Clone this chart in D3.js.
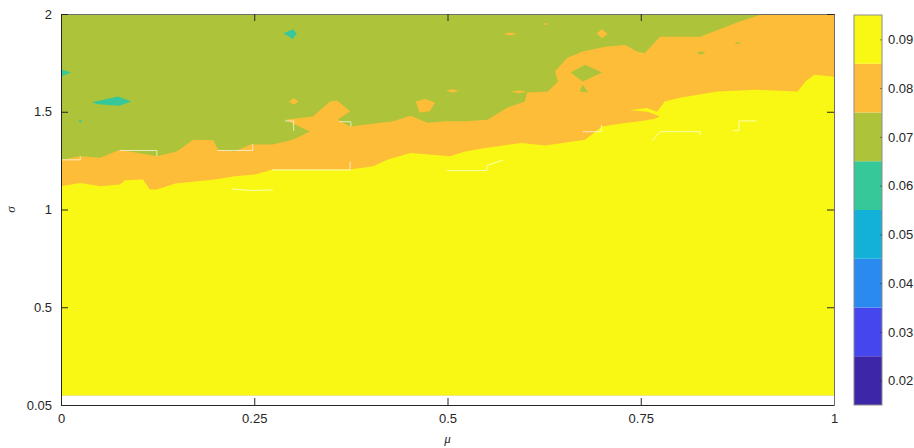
<!DOCTYPE html>
<html>
<head>
<meta charset="utf-8">
<script src="https://cdn.jsdelivr.net/npm/d3@7"></script>
<style>
  body { margin: 0; background: #fff; }
  text { font-family: "Liberation Sans", Arial, sans-serif; fill: #262626; }
</style>
</head>
<body>
<div id="chart"></div>
<script>
// tick values / labels
var muTicks = [0, 0.25, 0.5, 0.75, 1];
var sigmaTicks = [0, 0.5, 1, 1.5, 2];
var sigmaTickLabels = ["0.05", "0.5", "1", "1.5", "2"];

// contour levels and their colours (colorbar)
var levels = [0.02, 0.03, 0.04, 0.05, 0.06, 0.07, 0.08, 0.09];
var levelColors = ["#3e26a8", "#4646ee", "#2a8af0", "#13b1d7", "#37c899", "#adc43a", "#febd39", "#f8f814"];

// data extent of the surface
var muRange = [0, 1];
var sigmaRange = [0.05, 2];

// edge between 0.08 (below) and 0.07 (above), [mu, sigma]
var greenEdge = [
  [0, 1.255], [0.025, 1.272], [0.051, 1.265], [0.076, 1.306], [0.124, 1.272], [0.150, 1.297],
  [0.171, 1.357], [0.197, 1.354], [0.203, 1.306], [0.225, 1.297], [0.245, 1.332], [0.274, 1.332],
  [0.300, 1.357], [0.322, 1.399], [0.290, 1.459], [0.326, 1.476], [0.348, 1.553], [0.357, 1.558],
  [0.374, 1.502], [0.358, 1.459], [0.374, 1.425], [0.430, 1.451], [0.452, 1.480], [0.474, 1.444],
  [0.497, 1.451], [0.523, 1.451], [0.552, 1.459], [0.577, 1.520], [0.600, 1.553], [0.603, 1.598],
  [0.630, 1.604], [0.643, 1.655], [0.639, 1.706], [0.655, 1.776], [0.675, 1.808], [0.704, 1.833],
  [0.730, 1.842], [0.745, 1.808], [0.755, 1.799], [0.775, 1.884], [0.827, 1.884], [0.878, 1.961],
  [0.904, 1.995], [0.908, 2.0]
];

// edge between 0.09 (below) and 0.08 (above), [mu, sigma]
var yellowEdge = [
  [0, 1.119], [0.025, 1.136], [0.051, 1.119], [0.076, 1.128], [0.083, 1.149], [0.106, 1.153],
  [0.115, 1.102], [0.124, 1.102], [0.148, 1.133], [0.199, 1.153], [0.225, 1.170], [0.251, 1.179],
  [0.274, 1.204], [0.300, 1.204], [0.374, 1.204], [0.404, 1.221], [0.422, 1.255], [0.452, 1.289],
  [0.503, 1.272], [0.523, 1.297], [0.549, 1.315], [0.596, 1.340], [0.626, 1.327], [0.678, 1.357],
  [0.700, 1.425], [0.730, 1.442], [0.749, 1.452], [0.768, 1.464], [0.775, 1.476], [0.759, 1.500],
  [0.736, 1.508], [0.758, 1.519], [0.771, 1.500], [0.781, 1.553], [0.801, 1.571], [0.849, 1.604],
  [0.900, 1.612], [0.953, 1.604], [0.963, 1.655], [0.975, 1.689], [1.0, 1.679]
];

// small closed patches, [mu, sigma]
var islands = [
  { level: 0.06, pts: [[0, 1.718], [0.013, 1.701], [0, 1.680]] },
  { level: 0.06, pts: [[0.040, 1.549], [0.074, 1.578], [0.091, 1.553], [0.076, 1.531], [0.048, 1.539]] },
  { level: 0.06, pts: [[0.022, 1.451], [0.025, 1.457], [0.028, 1.451], [0.025, 1.445]] },
  { level: 0.06, pts: [[0.288, 1.902], [0.300, 1.922], [0.305, 1.902], [0.300, 1.872]] },
  { level: 0.08, pts: [[0.295, 1.553], [0.301, 1.570], [0.307, 1.553], [0.301, 1.536]] },
  { level: 0.08, pts: [[0.459, 1.553], [0.471, 1.565], [0.484, 1.547], [0.477, 1.502], [0.464, 1.496]] },
  { level: 0.08, pts: [[0.693, 1.902], [0.700, 1.922], [0.707, 1.898], [0.700, 1.876]] },
  { level: 0.08, pts: [[0.572, 1.898], [0.581, 1.905], [0.590, 1.898], [0.581, 1.891]] },
  { level: 0.08, pts: [[0.498, 1.607], [0.506, 1.615], [0.515, 1.606], [0.506, 1.599]] },
  { level: 0.08, pts: [[0.582, 1.602], [0.594, 1.610], [0.603, 1.600], [0.591, 1.596]] },
  { level: 0.08, pts: [[0.624, 1.949], [0.627, 1.954], [0.630, 1.949], [0.627, 1.944]] },
  { level: 0.07, pts: [[0.659, 1.701], [0.678, 1.740], [0.700, 1.701], [0.675, 1.655]] },
  { level: 0.07, pts: [[0.671, 1.604], [0.675, 1.638], [0.682, 1.598]] },
  { level: 0.07, pts: [[0.822, 1.801], [0.828, 1.809], [0.834, 1.801], [0.828, 1.793]] },
  { level: 0.07, pts: [[0.871, 1.852], [0.875, 1.857], [0.880, 1.852], [0.875, 1.847]] }
];

// thin white seams left by the renderer along some patch edges, [mu, sigma]
var seams = [
  [[0, 1.254], [0.025, 1.254], [0.025, 1.271]],
  [[0.076, 1.302], [0.124, 1.302], [0.124, 1.272]],
  [[0.202, 1.302], [0.248, 1.302], [0.248, 1.336]],
  [[0.221, 1.105], [0.247, 1.097], [0.274, 1.100]],
  [[0.273, 1.202], [0.374, 1.202], [0.374, 1.244]],
  [[0.290, 1.453], [0.301, 1.453], [0.301, 1.402]],
  [[0.360, 1.449], [0.375, 1.449], [0.375, 1.424]],
  [[0.499, 1.199], [0.551, 1.199], [0.551, 1.225], [0.572, 1.253]],
  [[0.675, 1.398], [0.699, 1.398], [0.699, 1.432]],
  [[0.765, 1.352], [0.775, 1.398], [0.827, 1.398], [0.827, 1.381]],
  [[0.869, 1.403], [0.877, 1.403], [0.877, 1.453], [0.900, 1.453]]
];

var svgWidth = 914;
var svgHeight = 448;
var margin = { top: 14, right: 80, bottom: 43, left: 61 };
var plotW = 834 - margin.left;
var plotH = svgHeight - margin.bottom - margin.top;

var svg = d3.select("#chart")
  .append("svg")
  .attr("width", svgWidth)
  .attr("height", svgHeight);

var x = d3.scaleLinear().domain([0, 1]).range([margin.left, margin.left + plotW]);
var y = d3.scaleLinear().domain([0, 2]).range([margin.top + plotH, margin.top]);

var colorOf = d3.scaleOrdinal().domain(levels).range(levelColors);

var line = d3.line()
  .x(function(d) { return x(d[0]); })
  .y(function(d) { return y(d[1]); });

var fills = svg.append("g");

// base: whole surface at 0.07
var base = [[muRange[0], sigmaRange[0]], [muRange[1], sigmaRange[0]], [muRange[1], sigmaRange[1]], [muRange[0], sigmaRange[1]]];
fills.append("path").attr("d", line(base) + "Z").attr("fill", colorOf(0.07));

// 0.08 band: everything under the green edge
var orangePoly = greenEdge.concat([[muRange[1], sigmaRange[1]], [muRange[1], sigmaRange[0]], [muRange[0], sigmaRange[0]]]);
fills.append("path").attr("d", line(orangePoly) + "Z").attr("fill", colorOf(0.08));

// 0.09 band: everything under the yellow edge
var yellowPoly = yellowEdge.concat([[muRange[1], sigmaRange[0]], [muRange[0], sigmaRange[0]]]);
fills.append("path").attr("d", line(yellowPoly) + "Z").attr("fill", colorOf(0.09));

fills.selectAll(".island")
  .data(islands)
  .enter()
  .append("path")
  .attr("class", "island")
  .attr("d", function(d) { return line(d.pts) + "Z"; })
  .attr("fill", function(d) { return colorOf(d.level); });

fills.selectAll(".seam")
  .data(seams)
  .enter()
  .append("path")
  .attr("class", "seam")
  .attr("d", function(d) { return line(d); })
  .attr("fill", "none")
  .attr("stroke", "#fff")
  .attr("stroke-opacity", 0.85)
  .attr("stroke-width", 0.8);

// axes, ticks pointing inward on all four sides
var axisColor = "#262626";
var fontSize = "13px";

var bottomAxis = svg.append("g")
  .attr("transform", "translate(0," + (margin.top + plotH) + ")")
  .call(d3.axisBottom(x).tickValues(muTicks).tickFormat(d3.format("")).tickSizeInner(-7).tickSizeOuter(0).tickPadding(9));
var topAxis = svg.append("g")
  .attr("transform", "translate(0," + margin.top + ")")
  .call(d3.axisTop(x).tickValues(muTicks).tickFormat("").tickSizeInner(-7).tickSizeOuter(0));
var leftAxis = svg.append("g")
  .attr("transform", "translate(" + margin.left + ",0)")
  .call(d3.axisLeft(y).tickValues(sigmaTicks).tickFormat(function(d, i) { return sigmaTickLabels[i]; }).tickSizeInner(-7).tickSizeOuter(0).tickPadding(9));
var rightAxis = svg.append("g")
  .attr("transform", "translate(" + (margin.left + plotW) + ",0)")
  .call(d3.axisRight(y).tickValues(sigmaTicks).tickFormat("").tickSizeInner(-7).tickSizeOuter(0));

[bottomAxis, leftAxis].forEach(function(g) {
  g.select(".domain").attr("stroke", axisColor).attr("stroke-width", 1);
});
[topAxis, rightAxis].forEach(function(g) {
  g.select(".domain").attr("stroke", "#6e6e6e").attr("stroke-width", 1);
});
[bottomAxis, topAxis, leftAxis, rightAxis].forEach(function(g) {
  g.selectAll(".tick line").attr("stroke", axisColor);
  g.selectAll("text").style("font-size", fontSize).attr("fill", axisColor);
});

// axis labels
svg.append("text")
  .attr("x", x(0.5))
  .attr("y", 443)
  .attr("text-anchor", "middle")
  .style("font-family", "'Liberation Serif', serif")
  .style("font-style", "italic")
  .style("font-size", "13px")
  .text("μ");

svg.append("text")
  .attr("transform", "translate(15," + y(1) + ") rotate(-90)")
  .attr("text-anchor", "middle")
  .style("font-family", "'Liberation Serif', serif")
  .style("font-style", "italic")
  .style("font-size", "13px")
  .text("σ");

// colorbar
var cbLeft = 854, cbWidth = 28;
var cy = d3.scaleLinear().domain([0.015, 0.095]).range([margin.top + plotH, margin.top + 1]);

svg.append("g").selectAll("rect")
  .data(levels)
  .enter()
  .append("rect")
  .attr("x", cbLeft)
  .attr("width", cbWidth)
  .attr("y", function(d) { return cy(d + 0.005); })
  .attr("height", function(d) { return cy(d - 0.005) - cy(d + 0.005); })
  .attr("fill", function(d) { return colorOf(d); });

svg.append("rect")
  .attr("x", cbLeft)
  .attr("y", cy(0.095))
  .attr("width", cbWidth)
  .attr("height", cy(0.015) - cy(0.095))
  .attr("fill", "none")
  .attr("stroke", "#8c8c8c")
  .attr("stroke-width", 1);

var cbAxis = svg.append("g")
  .attr("transform", "translate(" + (cbLeft + cbWidth) + ",0)")
  .call(d3.axisRight(cy).tickValues(levels).tickFormat(d3.format(".2f")).tickSizeInner(-2).tickSizeOuter(0).tickPadding(6));
cbAxis.select(".domain").remove();
cbAxis.selectAll(".tick line").attr("stroke", axisColor).attr("stroke-opacity", 0.5);
cbAxis.selectAll("text").style("font-size", fontSize).attr("fill", axisColor);
</script>
</body>
</html>
